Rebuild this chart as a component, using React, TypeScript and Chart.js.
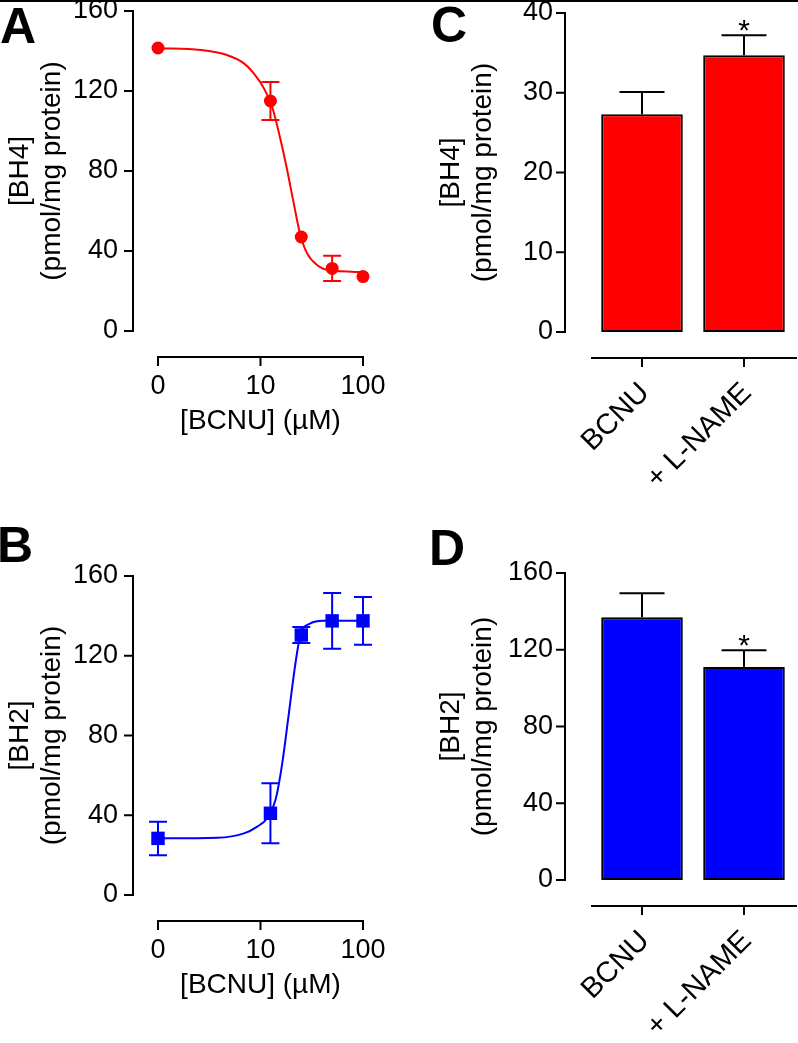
import React, { useEffect, useRef } from "react";
import { Chart, registerables } from "chart.js";

Chart.register(...registerables);

const FONT = '"Liberation Sans", Arial, Helvetica, sans-serif';
const RED = "#ff0000";
const BLUE = "#0000ff";

// ---- Dose-response data (BCNU, µM) ----
const BCNU_DOSES = [0, 12.5, 25, 50, 100];
const CONTROL_POSITION = 1; // the 0 µM control sits one decade below 10 on the log axis
const LOG_TICKS = [1, 10, 100];
const LOG_TICK_LABELS = ["0", "10", "100"];

// Panel A: BH4
const BH4_MEAN = [141.5, 115, 47, 31.3, 27.2];
const BH4_SEM = [0, 9.5, 0, 6.3, 0];
const BH4_FIT_X = [1, 2.6, 4.7, 6.9, 8.6, 10.8, 13, 15.7, 18.2, 21.1, 24.5, 28.5, 35.6, 47.9, 100];
const BH4_FIT_Y = [141.4, 140.5, 138, 133.8, 128.8, 121.3, 112, 95.5, 80.5, 63.8, 48, 38.8, 33, 30.2, 29.5];

// Panel B: BH2
const BH2_MEAN = [28.4, 41, 130.4, 137.5, 137.5];
const BH2_SEM = [8.4, 15, 4, 14, 12];
const BH2_FIT_X = [1, 3.8, 6.9, 9.3, 11.6, 14, 16.3, 18.9, 21.9, 24.5, 30.7, 41.3, 100];
const BH2_FIT_Y = [28.4, 28.7, 30.9, 34.3, 38.5, 47.6, 66, 91, 116, 130.4, 136.2, 137.5, 137.6];

const BH_TICK_STEP = 40;
const BH_MAX = 160;

// ---- Bar data ----
const GROUPS = ["BCNU", "+ L-NAME"];
const BAR_BH4 = [27.3, 34.7];
const BAR_BH4_SEM = [2.8, 2.5];
const BAR_BH4_MAX = 40;
const BAR_BH4_STEP = 10;
const BAR_BH2 = [137, 111];
const BAR_BH2_SEM = [12.4, 8.8];
const SIGNIF = ["", "*"];

type AxisOpts = {
  yGap: number;
  xGap: number;
  kind: "log" | "cat";
  letter: string;
  lx: number;
  ly: number;
};

function prismPlugin(o: AxisOpts) {
  return {
    id: "prismAxes",
    afterDraw(chart: any) {
      const { ctx, chartArea } = chart;
      const ys = chart.scales.y;
      const xs = chart.scales.x;
      ctx.save();
      ctx.strokeStyle = "#000";
      ctx.lineWidth = 2;
      ctx.lineCap = "butt";
      ctx.beginPath();
      // detached y axis
      const x0 = chartArea.left - o.yGap;
      ctx.moveTo(x0, ys.getPixelForValue(ys.max) - 1);
      ctx.lineTo(x0, ys.getPixelForValue(ys.min) + 1);
      ys.ticks.forEach((t: any) => {
        const py = ys.getPixelForValue(t.value);
        ctx.moveTo(x0 + 1, py);
        ctx.lineTo(x0 - 9, py);
      });
      // detached x axis
      const y0 = chartArea.bottom + o.xGap;
      if (o.kind === "log") {
        const a = xs.getPixelForValue(LOG_TICKS[0]);
        const b = xs.getPixelForValue(LOG_TICKS[LOG_TICKS.length - 1]);
        ctx.moveTo(a - 1, y0);
        ctx.lineTo(b + 1, y0);
        LOG_TICKS.forEach((v) => {
          const px = xs.getPixelForValue(v);
          ctx.moveTo(px, y0 - 1);
          ctx.lineTo(px, y0 + 9);
        });
      } else {
        ctx.moveTo(chartArea.left, y0);
        ctx.lineTo(chartArea.right + 2, y0);
        GROUPS.forEach((_, i) => {
          const px = xs.getPixelForValue(i);
          ctx.moveTo(px, y0 - 1);
          ctx.lineTo(px, y0 + 9);
        });
      }
      ctx.stroke();
      // panel letter
      ctx.fillStyle = "#000";
      ctx.font = `bold 50px ${FONT}`;
      ctx.textBaseline = "alphabetic";
      ctx.textAlign = "left";
      ctx.fillText(o.letter, o.lx, o.ly);
      ctx.restore();
    },
  };
}

function pointErrorPlugin(means: number[], sems: number[], color: string) {
  return {
    id: "pointErrors",
    afterDatasetsDraw(chart: any) {
      const { ctx } = chart;
      const xs = chart.scales.x;
      const ys = chart.scales.y;
      ctx.save();
      ctx.strokeStyle = color;
      ctx.lineWidth = 2;
      ctx.beginPath();
      BCNU_DOSES.forEach((d, i) => {
        if (!sems[i]) return;
        const px = xs.getPixelForValue(d === 0 ? CONTROL_POSITION : d);
        const top = ys.getPixelForValue(means[i] + sems[i]);
        const bot = ys.getPixelForValue(means[i] - sems[i]);
        ctx.moveTo(px, top);
        ctx.lineTo(px, bot);
        ctx.moveTo(px - 9, top);
        ctx.lineTo(px + 9, top);
        ctx.moveTo(px - 9, bot);
        ctx.lineTo(px + 9, bot);
      });
      ctx.stroke();
      ctx.restore();
    },
  };
}

function barErrorPlugin(values: number[], sems: number[]) {
  return {
    id: "barErrors",
    afterDatasetsDraw(chart: any) {
      const { ctx } = chart;
      const xs = chart.scales.x;
      const ys = chart.scales.y;
      ctx.save();
      ctx.strokeStyle = "#000";
      ctx.fillStyle = "#000";
      ctx.lineWidth = 2;
      ctx.beginPath();
      values.forEach((v, i) => {
        const px = xs.getPixelForValue(i);
        const base = ys.getPixelForValue(v);
        const top = ys.getPixelForValue(v + sems[i]);
        ctx.moveTo(px, base);
        ctx.lineTo(px, top);
        ctx.moveTo(px - 22.5, top);
        ctx.lineTo(px + 22.5, top);
      });
      ctx.stroke();
      ctx.font = `30px ${FONT}`;
      ctx.textAlign = "center";
      ctx.textBaseline = "alphabetic";
      values.forEach((v, i) => {
        if (!SIGNIF[i]) return;
        const px = xs.getPixelForValue(i);
        const top = ys.getPixelForValue(v + sems[i]);
        ctx.fillText(SIGNIF[i], px, top + 5);
      });
      ctx.restore();
    },
  };
}

const yTickFont = { family: FONT, size: 27 };
const xTickFont = { family: FONT, size: 27 };
const barTickFont = { family: FONT, size: 29 };
const titleFont = { family: FONT, size: 28, lineHeight: 1.16 };

function doseConfig(p: {
  means: number[];
  sems: number[];
  fitX: number[];
  fitY: number[];
  color: string;
  pointStyle: string;
  radius: number;
  yTitle: string[];
  top: number;
  xHeight: number;
  xTitlePad: number;
  letter: string;
  lx: number;
  ly: number;
}) {
  return {
    type: "scatter",
    data: {
      datasets: [
        {
          data: BCNU_DOSES.map((d, i) => ({ x: d === 0 ? CONTROL_POSITION : d, y: p.means[i] })),
          pointStyle: p.pointStyle,
          pointRadius: p.radius,
          backgroundColor: p.color,
          borderColor: p.color,
          borderWidth: 0,
          showLine: false,
          clip: false,
        },
        {
          data: p.fitX.map((x, i) => ({ x, y: p.fitY[i] })),
          showLine: true,
          pointRadius: 0,
          borderColor: p.color,
          borderWidth: 2,
          cubicInterpolationMode: "monotone",
          clip: false,
        },
      ],
    },
    options: {
      responsive: false,
      animation: false,
      events: [],
      layout: { padding: { left: 0, top: p.top, right: 36, bottom: 0 } },
      plugins: { legend: { display: false }, tooltip: { enabled: false } },
      scales: {
        x: {
          type: "logarithmic",
          min: LOG_TICKS[0],
          max: LOG_TICKS[LOG_TICKS.length - 1],
          afterBuildTicks: (s: any) => {
            s.ticks = LOG_TICKS.map((v) => ({ value: v }));
          },
          ticks: {
            callback: (_v: any, i: number) => LOG_TICK_LABELS[i],
            font: xTickFont,
            color: "#000",
            padding: 39,
            maxRotation: 0,
            autoSkip: false,
          },
          grid: { display: false, drawTicks: false },
          border: { display: false },
          title: {
            display: true,
            text: "[BCNU] (µM)",
            font: titleFont,
            color: "#000",
            padding: { top: 0, bottom: p.xTitlePad },
          },
          afterFit: (s: any) => {
            s.height = p.xHeight;
            s.paddingLeft = 0;
            s.paddingRight = 0;
          },
        },
        y: {
          type: "linear",
          min: 0,
          max: BH_MAX,
          ticks: { stepSize: BH_TICK_STEP, font: yTickFont, color: "#000", padding: 40 },
          grid: { display: false, drawTicks: false },
          border: { display: false },
          title: {
            display: true,
            text: p.yTitle,
            font: titleFont,
            color: "#000",
            padding: { top: 4, bottom: 0 },
          },
          afterFit: (s: any) => {
            s.width = 158;
            s.paddingTop = 0;
            s.paddingBottom = 0;
          },
        },
      },
    },
    plugins: [
      pointErrorPlugin(p.means, p.sems, p.color),
      prismPlugin({ yGap: 25, xGap: 26, kind: "log", letter: p.letter, lx: p.lx, ly: p.ly }),
    ],
  };
}

function barConfig(p: {
  values: number[];
  sems: number[];
  color: string;
  max: number;
  step: number;
  yTitle: string[];
  top: number;
  xHeight: number;
  letter: string;
  lx: number;
  ly: number;
}) {
  return {
    type: "bar",
    data: {
      labels: GROUPS,
      datasets: [
        {
          data: p.values,
          backgroundColor: p.color,
          borderColor: "#000",
          borderWidth: 2,
          borderSkipped: false,
          categoryPercentage: 1,
          barPercentage: 0.8,
        },
      ],
    },
    options: {
      responsive: false,
      animation: false,
      events: [],
      layout: { padding: { left: 0, top: p.top, right: 3, bottom: 0 } },
      plugins: { legend: { display: false }, tooltip: { enabled: false } },
      scales: {
        x: {
          type: "category",
          offset: true,
          ticks: {
            font: barTickFont,
            color: "#000",
            padding: 44,
            labelOffset: 3,
            minRotation: 45,
            maxRotation: 45,
            autoSkip: false,
          },
          grid: { display: false, drawTicks: false },
          border: { display: false },
          afterFit: (s: any) => {
            s.height = p.xHeight;
            s.paddingLeft = 0;
            s.paddingRight = 0;
          },
        },
        y: {
          type: "linear",
          min: 0,
          max: p.max,
          ticks: { stepSize: p.step, font: yTickFont, color: "#000", padding: 38 },
          grid: { display: false, drawTicks: false },
          border: { display: false },
          title: {
            display: true,
            text: p.yTitle,
            font: titleFont,
            color: "#000",
            padding: { top: 36, bottom: 0 },
          },
          afterFit: (s: any) => {
            s.width = 192;
            s.paddingTop = 0;
            s.paddingBottom = 0;
          },
        },
      },
    },
    plugins: [
      barErrorPlugin(p.values, p.sems),
      prismPlugin({ yGap: 26, xGap: 26, kind: "cat", letter: p.letter, lx: p.lx, ly: p.ly }),
    ],
  };
}

function ChartBox(props: { left: number; top: number; width: number; height: number; make: () => any }) {
  const ref = useRef<HTMLCanvasElement | null>(null);
  useEffect(() => {
    if (!ref.current) return;
    const chart = new Chart(ref.current, props.make());
    return () => chart.destroy();
  }, []);
  return (
    <canvas
      ref={ref}
      width={props.width}
      height={props.height}
      style={{ position: "absolute", left: props.left, top: props.top, width: props.width, height: props.height }}
    />
  );
}

export default function App() {
  return (
    <div style={{ position: "absolute", left: 0, top: 0, width: 798, height: 1043, background: "#fff", overflow: "hidden" }}>
      <div style={{ position: "absolute", left: 0, top: 0, width: 798, height: 2, background: "#000", zIndex: 2 }} />
      <ChartBox
        left={0}
        top={0}
        width={399}
        height={521}
        make={() =>
          doseConfig({
            means: BH4_MEAN,
            sems: BH4_SEM,
            fitX: BH4_FIT_X,
            fitY: BH4_FIT_Y,
            color: RED,
            pointStyle: "circle",
            radius: 6.5,
            yTitle: ["[BH4]", "(pmol/mg protein)"],
            top: 11,
            xHeight: 190,
            xTitlePad: 83,
            letter: "A",
            lx: 0,
            ly: 43,
          })
        }
      />
      <ChartBox
        left={399}
        top={0}
        width={399}
        height={521}
        make={() =>
          barConfig({
            values: BAR_BH4,
            sems: BAR_BH4_SEM,
            color: RED,
            max: BAR_BH4_MAX,
            step: BAR_BH4_STEP,
            yTitle: ["[BH4]", "(pmol/mg protein)"],
            top: 13,
            xHeight: 189,
            letter: "C",
            lx: 32,
            ly: 42,
          })
        }
      />
      <ChartBox
        left={0}
        top={521}
        width={399}
        height={522}
        make={() =>
          doseConfig({
            means: BH2_MEAN,
            sems: BH2_SEM,
            fitX: BH2_FIT_X,
            fitY: BH2_FIT_Y,
            color: BLUE,
            pointStyle: "rect",
            radius: 9.5,
            yTitle: ["[BH2]", "(pmol/mg protein)"],
            top: 55,
            xHeight: 148,
            xTitlePad: 41,
            letter: "B",
            lx: -3,
            ly: 41,
          })
        }
      />
      <ChartBox
        left={399}
        top={521}
        width={399}
        height={522}
        make={() =>
          barConfig({
            values: BAR_BH2,
            sems: BAR_BH2_SEM,
            color: BLUE,
            max: BH_MAX,
            step: BH_TICK_STEP,
            yTitle: ["[BH2]", "(pmol/mg protein)"],
            top: 52,
            xHeight: 163,
            letter: "D",
            lx: 30,
            ly: 44,
          })
        }
      />
    </div>
  );
}
